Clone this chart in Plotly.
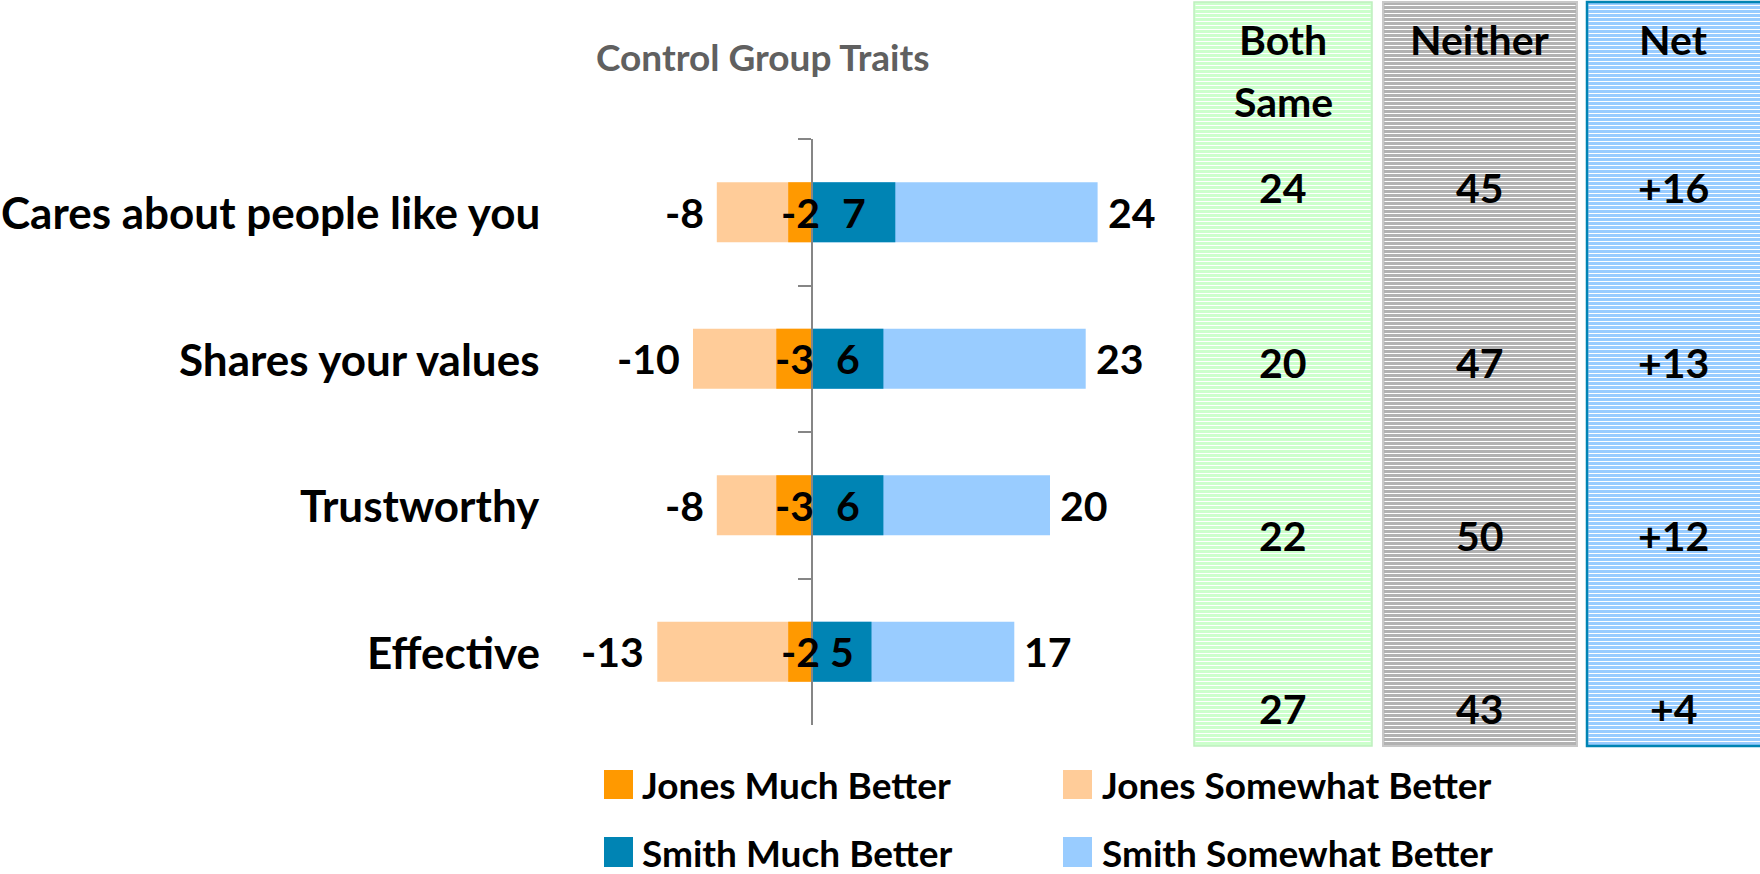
import plotly.graph_objects as go

# ---------------- data ----------------
categories = ["Cares about people like you", "Shares your values", "Trustworthy", "Effective"]
jones_much = [-2, -3, -3, -2]
jones_somewhat = [-8, -10, -8, -13]
smith_much = [7, 6, 6, 5]
smith_somewhat = [24, 23, 20, 17]

column_headers = [["Both", "Same"], ["Neither"], ["Net"]]
both_same = [24, 20, 22, 27]
neither = [45, 47, 50, 43]
net = [16, 13, 12, 4]

series_names = ["Jones Much Better", "Jones Somewhat Better", "Smith Much Better", "Smith Somewhat Better"]
title_text = "Control Group Traits"

# ---------------- styling / layout constants ----------------
W, H = 1760, 874
def PX(x):
    return x / W
def PY(y):
    return 1 - y / H

FONT = "Lato, 'Open Sans', sans-serif"
C_JM, C_JS, C_SM, C_SS = "#FF9900", "#FFCC99", "#0084B4", "#99CCFF"
series_colors = [C_JM, C_JS, C_SM, C_SS]

zero_px = 812.0
unit_px = 11.9
dom_l, dom_r = 560.0, 1180.0
x_range = [(dom_l - zero_px) / unit_px, (dom_r - zero_px) / unit_px]
plot_top, plot_bot = 139.0, 725.0

fig = go.Figure()
shapes = []

# background "table" columns: solid fill + thin white horizontal stripes + border
col_left = [1194, 1383, 1587]
col_right = [1372, 1577, 1766]
col_top, col_bot = 2, 746
col_fill = ["#CCFFCC", "#B2B2B2", "#99CCFF"]
col_border = ["#BFEFBF", "#C8C8C8", "#0084B4"]
col_bw = [1.5, 2, 2.5]
sx, sy = [], []
for l, r, fc, bc, bw in zip(col_left, col_right, col_fill, col_border, col_bw):
    shapes.append(dict(type="rect", xref="x2", yref="y2", x0=l, x1=r, y0=col_top, y1=col_bot,
                       fillcolor=fc, line=dict(width=0), layer="below"))
    shapes.append(dict(type="rect", xref="x2", yref="y2", x0=l, x1=r, y0=col_top, y1=col_bot,
                       fillcolor="rgba(0,0,0,0)", line=dict(color=bc, width=bw), layer="above"))
    yy = col_top + 3.5
    while yy < col_bot - 1:
        sx += [l + 1.5, r - 1.5, None]
        sy += [yy, yy, None]
        yy += 4
fig.add_trace(go.Scatter(x=sx, y=sy, mode="lines", xaxis="x2", yaxis="y2",
                         line=dict(color="white", width=1), hoverinfo="skip", showlegend=False))

# main diverging bars (overlay: totals behind, "much" in front)
for vals, color, name in [(jones_somewhat, C_JS, series_names[1]),
                          (smith_somewhat, C_SS, series_names[3]),
                          (jones_much, C_JM, series_names[0]),
                          (smith_much, C_SM, series_names[2])]:
    fig.add_trace(go.Bar(
        y=categories, x=vals, orientation="h", width=0.41,
        marker=dict(color=color, line=dict(width=0)),
        name=name, showlegend=False, hoverinfo="skip",
    ))

ann = []
NUMF = dict(family=FONT, size=41, color="black", weight="bold")
for i, cat in enumerate(categories):
    ann.append(dict(x=jones_somewhat[i], y=cat, xref="x", yref="y", text=str(jones_somewhat[i]),
                    xanchor="right", yanchor="middle", xshift=-11, showarrow=False, font=NUMF))
    ann.append(dict(x=smith_somewhat[i], y=cat, xref="x", yref="y", text=str(smith_somewhat[i]),
                    xanchor="left", yanchor="middle", xshift=8, showarrow=False, font=NUMF))
    ann.append(dict(x=jones_much[i] / 2, y=cat, xref="x", yref="y", text=str(jones_much[i]),
                    xanchor="center", yanchor="middle", showarrow=False, font=NUMF))
    ann.append(dict(x=smith_much[i] / 2, y=cat, xref="x", yref="y", text=str(smith_much[i]),
                    xanchor="center", yanchor="middle", showarrow=False, font=NUMF))
    # category label
    ann.append(dict(x=PX(542), y=cat, xref="paper", yref="y", text=cat,
                    xanchor="right", yanchor="middle", showarrow=False,
                    font=dict(family=FONT, size=44, color="black", weight="bold")))

# title
ann.append(dict(x=PX(763), y=PY(57), xref="paper", yref="paper", text=title_text,
                xanchor="center", yanchor="middle", showarrow=False,
                font=dict(family=FONT, size=37, color="#606060", weight="bold")))

# table columns text
COLF = dict(family=FONT, size=41, color="black", weight="bold")
col_centers = [(l + r) / 2 for l, r in zip(col_left, [1372, 1577, 1760])]
header_line_y = [39, 101]
for c, lines in enumerate(column_headers):
    for j, line in enumerate(lines):
        ann.append(dict(x=PX(col_centers[c]), y=PY(header_line_y[j]), xref="paper", yref="paper",
                        text=line, xanchor="center", yanchor="middle", showarrow=False, font=COLF))
row_y = [188, 362, 535, 708]
col_values = [[str(v) for v in both_same], [str(v) for v in neither], ["+%d" % v for v in net]]
for c, vals in enumerate(col_values):
    for r, v in enumerate(vals):
        ann.append(dict(x=PX(col_centers[c]), y=PY(row_y[r]), xref="paper", yref="paper", text=v,
                        xanchor="center", yanchor="middle", showarrow=False, font=COLF))

# manual legend (2 x 2)
leg_cols = [(604, 640), (1063, 1100)]
leg_rows = [(770, 799), (837, 867)]
for k, (name, color) in enumerate(zip(series_names, series_colors)):
    r, c = divmod(k, 2)
    lx, tx = leg_cols[c]
    y0, y1 = leg_rows[r]
    shapes.append(dict(type="rect", xref="paper", yref="paper",
                       x0=PX(lx), x1=PX(lx + 29), y0=PY(y1), y1=PY(y0),
                       fillcolor=color, line=dict(width=0)))
    ann.append(dict(x=PX(tx), y=PY((y0 + y1) / 2), xref="paper", yref="paper", text=name,
                    xanchor="left", yanchor="middle", showarrow=False,
                    font=dict(family=FONT, size=37, color="black", weight="bold")))

fig.update_layout(
    width=W, height=H,
    margin=dict(l=0, r=0, t=0, b=0),
    paper_bgcolor="white", plot_bgcolor="rgba(0,0,0,0)",
    barmode="overlay",
    showlegend=False,
    xaxis=dict(domain=[PX(dom_l), PX(dom_r)], range=x_range, visible=False, fixedrange=True),
    yaxis=dict(domain=[PY(plot_bot), PY(plot_top)], type="category",
               categoryorder="array", categoryarray=categories,
               range=[len(categories) - 0.5, -0.5],
               anchor="free", position=PX(zero_px),
               showline=True, linecolor="#868686", linewidth=2,
               ticks="outside", ticklen=13, tickwidth=2, tickcolor="#868686",
               tickson="boundaries", showticklabels=False, showgrid=False, zeroline=False),
    xaxis2=dict(domain=[0, 1], range=[0, W], visible=False, anchor="y2"),
    yaxis2=dict(domain=[0, 1], range=[H, 0], visible=False, anchor="x2"),
    annotations=ann,
    shapes=shapes,
)

fig.write_html("out.html", config={"displayModeBar": False},
               post_script="document.body.style.margin='0';document.body.style.overflow='hidden';")
